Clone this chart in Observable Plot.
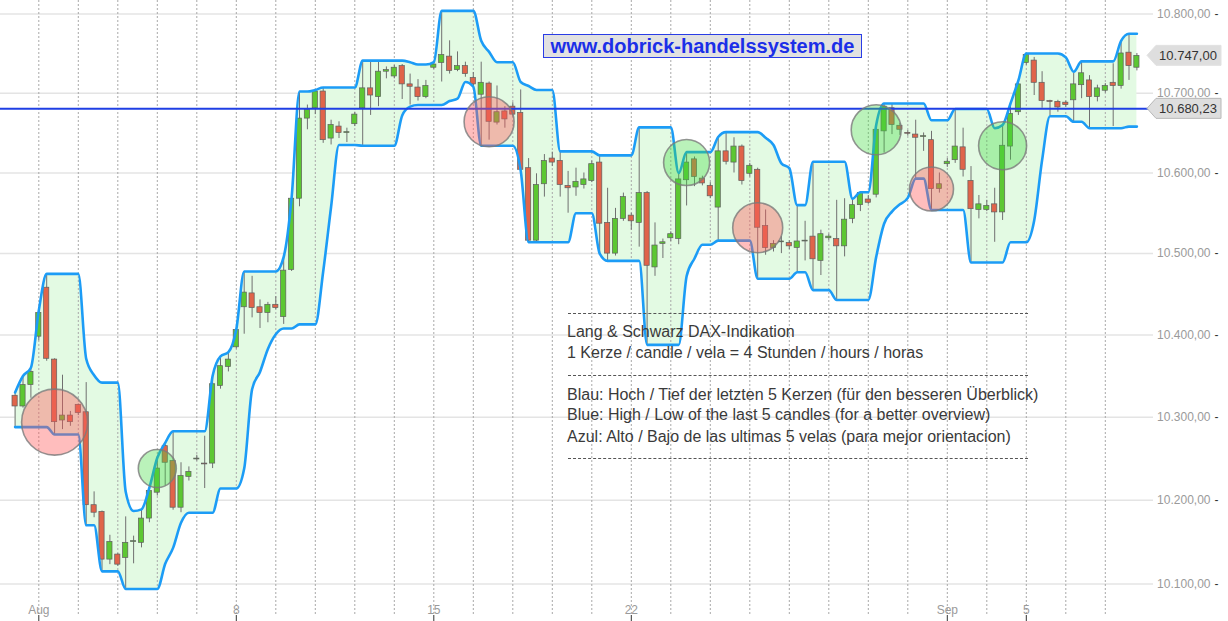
<!DOCTYPE html>
<html>
<head>
<meta charset="utf-8">
<script src="https://cdn.jsdelivr.net/npm/d3@7"></script>
<script src="https://cdn.jsdelivr.net/npm/@observablehq/plot@0.6"></script>
<style>
  body { margin: 0; background: #fff; font-family: "Liberation Sans", Arial, sans-serif; }
  #wrap { position: relative; width: 1228px; height: 621px; overflow: hidden; background: #fff; }
  #title { position: absolute; left: 543px; top: 34px; width: 319px; height: 24px; box-sizing: border-box;
           background: #e1e1e1; border: 1px solid #2a3de6; color: #1b2fe8; font-weight: bold;
           font-size: 20px; line-height: 22px; text-align: center; white-space: nowrap; }
  .note { position: absolute; left: 567px; color: #3a3a3a; font-size: 16px; line-height: 21px; white-space: nowrap; }
  .sep { position: absolute; left: 568px; width: 460px; height: 0; border-top: 1px dashed #555; }
</style>
</head>
<body>
<div id="wrap">
  <div id="chart"></div>
  <div id="title">www.dobrick-handelssystem.de</div>
  <div class="sep" style="top:313px"></div>
  <div class="note" style="top:321px">Lang &amp; Schwarz DAX-Indikation</div>
  <div class="note" style="top:342px">1 Kerze / candle / vela = 4 Stunden / hours / horas</div>
  <div class="sep" style="top:375px"></div>
  <div class="note" style="top:384px">Blau: Hoch / Tief der letzten 5 Kerzen (für den besseren Überblick)</div>
  <div class="note" style="top:404px">Blue: High / Low of the last 5 candles (for a better overview)</div>
  <div class="note" style="top:426px">Azul: Alto / Bajo de las ultimas 5 velas (para mejor orientacion)</div>
  <div class="sep" style="top:458px"></div>
</div>
<script>
// ---- DATA (4-hour candles, Lang & Schwarz DAX indication) ----
const open = [10326,10313,10339,10398,10458,10370,10296,10302,10315,10306,
  10194,10186,10129,10135,10131,10150,10149,10178,10209,10265,
  10247,10191,10228,10249,10244,10244,10338,10361,10385,10434,
  10451,10434,10427,10437,10422,10480,10568,10668,10681,10702,
  10643,10658,10650,10661,10681,10706,10695,10727,10721,10734,
  10711,10707,10695,10732,10738,10746,10729,10734,10719,10698,
  10712,10663,10677,10683,10675,10606,10516,10586,10618,10615,
  10584,10582,10585,10590,10613,10538,10500,10543,10547,10538,
  10575,10483,10512,10519,10518,10591,10617,10593,10584,10557,
  10627,10613,10633,10599,10604,10534,10507,10514,10513,10507,
  10515,10521,10491,10519,10518,10509,10543,10560,10567,10573,
  10652,10681,10659,10650,10648,10645,10641,10580,10611,10616,
  10632,10590,10554,10554,10561,10551,10633,10676,10738,10741,
  10713,10690,10689,10688,10691,10710,10716,10695,10703,10713,
  10709,10751,10732];
const high = [10330,10350,10360,10430,10475,10371,10351,10307,10316,10342,
  10210,10187,10158,10136,10180,10157,10189,10215,10251,10269,
  10283,10245,10240,10254,10277,10350,10374,10379,10407,10478,
  10472,10443,10440,10447,10496,10569,10702,10685,10704,10707,
  10666,10664,10656,10676,10741,10741,10739,10733,10735,10736,
  10724,10717,10716,10739,10804,10766,10752,10739,10726,10739,
  10714,10709,10683,10688,10704,10618,10599,10623,10626,10627,
  10602,10606,10600,10615,10622,10581,10556,10575,10550,10657,
  10577,10538,10518,10527,10600,10626,10620,10596,10588,10645,
  10651,10644,10635,10612,10606,10554,10516,10521,10516,10560,
  10540,10614,10529,10524,10566,10568,10568,10576,10572,10660,
  10687,10687,10662,10653,10666,10650,10652,10600,10618,10680,
  10656,10608,10572,10566,10581,10660,10687,10716,10750,10745,
  10727,10691,10691,10690,10725,10740,10722,10710,10712,10737,
  10766,10775,10750];
const low = [10288,10311,10323,10393,10368,10279,10285,10289,10302,10170,
  10179,10115,10123,10121,10094,10124,10143,10173,10205,10217,
  10188,10185,10223,10247,10214,10238,10334,10355,10383,10401,
  10421,10408,10415,10431,10413,10478,10558,10654,10673,10637,
  10635,10643,10638,10658,10634,10672,10683,10718,10718,10692,
  10685,10690,10693,10730,10714,10724,10727,10720,10708,10634,
  10641,10660,10656,10670,10603,10514,10514,10570,10608,10570,
  10550,10571,10580,10588,10500,10491,10497,10540,10529,10508,
  10388,10472,10494,10515,10511,10559,10583,10584,10568,10516,
  10610,10600,10585,10595,10469,10498,10502,10500,10505,10477,
  10491,10455,10473,10516,10443,10496,10537,10552,10561,10569,
  10625,10648,10647,10646,10593,10627,10554,10575,10607,10612,
  10595,10489,10543,10552,10514,10541,10616,10672,10735,10697,
  10681,10671,10676,10682,10664,10693,10656,10689,10700,10658,
  10705,10716,10728];
const close = [10313,10339,10355,10427,10371,10294,10302,10294,10305,10194,
  10185,10129,10150,10123,10149,10151,10178,10211,10238,10245,
  10191,10229,10234,10250,10243,10340,10362,10370,10406,10452,
  10433,10427,10437,10433,10479,10568,10668,10679,10702,10641,
  10660,10650,10651,10673,10706,10697,10727,10729,10732,10711,
  10708,10695,10709,10736,10748,10728,10734,10724,10711,10713,
  10664,10676,10667,10673,10604,10516,10585,10615,10613,10585,
  10581,10589,10592,10611,10537,10500,10543,10570,10540,10575,
  10485,10510,10514,10524,10592,10613,10595,10587,10571,10627,
  10614,10633,10590,10609,10532,10507,10512,10515,10509,10515,
  10516,10493,10524,10521,10509,10542,10560,10575,10563,10654,
  10683,10660,10654,10649,10644,10646,10580,10586,10614,10633,
  10604,10555,10561,10559,10551,10634,10674,10711,10748,10713,
  10690,10689,10682,10685,10711,10725,10695,10706,10709,10709,
  10750,10734,10747];

// signal candles (circles drawn at the candle close)
const signalIndex = [5, 18, 60, 85, 94, 109, 116, 125];
const signalSide  = ["sell","buy","sell","buy","sell","buy","sell","buy"];

// reference lines / labels
const refLevel = 10680.23;
const lastLabel = "10.747,00";
const refLabel = "10.680,23";
const yTicks = [10100,10200,10300,10400,10500,10600,10700,10800];
const dayLabels = ["Aug","8","15","22","Sep","5"];
const dayLabelIndex = [3, 28, 53, 78, 118, 128];
const channelLength = 5;

// ---- derived table ----
const rows = open.map((o, i) => {
  const from = Math.max(0, i - channelLength + 1);
  return {
    i, open: o, high: high[i], low: low[i], close: close[i],
    upper: d3.max(high.slice(from, i + 1)),
    lower: d3.min(low.slice(from, i + 1))
  };
});
const up = rows.filter(d => d.close >= d.open);
const down = rows.filter(d => d.close < d.open);
const dayStarts = d3.range(dayLabelIndex[0], open.length, 5);

// style for the signal circles (pixel radii)
const signalRadius = [33, 19, 25, 23, 25, 25, 22, 24];
const signals = signalIndex.map((i, k) => ({i, price: close[i], side: signalSide[k], r: signalRadius[k]}));

const de = d3.formatLocale({decimal: ",", thousands: ".", grouping: [3], currency: ["", "€"]});
const fmt = de.format(",.2f");

const GREEN = "#5cc732", RED = "#e0644a", BAND = "#1c9cf6";

const chart = Plot.plot({
  width: 1228, height: 621,
  marginTop: 0, marginLeft: 0, marginRight: 75, marginBottom: 6,
  x: {type: "linear", domain: [0, open.length - 1], range: [14.6, 14.6 + 7.9 * (open.length - 1)], axis: null},
  y: {type: "log", domain: [10100, 10800], range: [583.5, 13.5], axis: null},
  r: {type: "identity"},
  style: {fontFamily: "Liberation Sans, Arial, sans-serif", background: "white", overflow: "visible"},
  marks: [
    Plot.gridY(yTicks, {stroke: "#e4e4e4", strokeOpacity: 1, strokeWidth: 1.5}),
    Plot.areaY(rows, {x: "i", y1: "lower", y2: "upper", fill: "#e3fae3", curve: "monotone-x"}),
    Plot.ruleX(dayStarts, {x: d => d, stroke: "#a8a8a8", strokeDasharray: "2,2", strokeWidth: 1}),
    Plot.ruleX(rows, {x: "i", y1: "low", y2: "high", stroke: "#707070", strokeWidth: 1}),
    Plot.rect(up, {x1: d => d.i - 0.33, x2: d => d.i + 0.33, y1: "open", y2: "close", fill: GREEN, stroke: "#5f5f5f", strokeWidth: 0.7}),
    Plot.rect(down, {x1: d => d.i - 0.33, x2: d => d.i + 0.33, y1: "open", y2: "close", fill: RED, stroke: "#5f5f5f", strokeWidth: 0.7}),
    Plot.lineY(rows, {x: "i", y: "upper", stroke: BAND, strokeWidth: 2.6, curve: "monotone-x"}),
    Plot.lineY(rows, {x: "i", y: "lower", stroke: BAND, strokeWidth: 2.6, curve: "monotone-x"}),
    Plot.ruleY([refLevel], {stroke: "#1f3fe4", strokeWidth: 2}),
    Plot.dot(signals.filter(d => d.side === "sell"), {x: "i", y: "price", r: "r", fill: "#ff5a5a", fillOpacity: 0.4, stroke: "#7a7a7a", strokeOpacity: 0.8, strokeWidth: 1.6}),
    Plot.dot(signals.filter(d => d.side === "buy"), {x: "i", y: "price", r: "r", fill: "#3fdc3f", fillOpacity: 0.36, stroke: "#7a7a7a", strokeOpacity: 0.8, strokeWidth: 1.6}),
    Plot.text(yTicks, {y: d => d, text: d => fmt(d), frameAnchor: "right", textAnchor: "end", dx: 57, fill: "#9a9a9a", fontSize: 12}),
    Plot.text(yTicks, {y: d => d, text: () => "-", frameAnchor: "right", textAnchor: "start", dx: 61, fill: "#333", fontSize: 12}),
    Plot.text(dayLabelIndex, {x: d => d, text: (d, k) => dayLabels[k], frameAnchor: "bottom", lineAnchor: "bottom", dy: -2, fill: "#9a9a9a", fontSize: 12}),
    Plot.axisX({anchor: "bottom", ticks: dayLabelIndex, tickSize: 6, tickFormat: () => "", stroke: "#333", label: null})
  ]
});
document.getElementById("chart").appendChild(chart);

// price tags at the right edge, positioned through the plot's y scale
const ys = chart.scale("y");
const svg = d3.select(chart);
function tag(value, label, stroke) {
  const y = ys.apply(value);
  const g = svg.append("g");
  g.append("path")
    .attr("d", `M1147,${y} L1156,${y - 10} L1221,${y - 10} L1221,${y + 10} L1156,${y + 10} Z`)
    .attr("fill", "#dedede").attr("stroke", stroke).attr("stroke-width", 1);
  g.append("text").attr("x", 1188).attr("y", y).attr("dy", "0.35em")
    .attr("text-anchor", "middle").attr("font-size", 13).attr("fill", "#333")
    .attr("font-family", "Liberation Sans, Arial, sans-serif").text(label);
}
tag(close[close.length - 1], lastLabel, "#e2e2e2");
tag(refLevel, refLabel, "#b8b8b8");
</script>
</body>
</html>
